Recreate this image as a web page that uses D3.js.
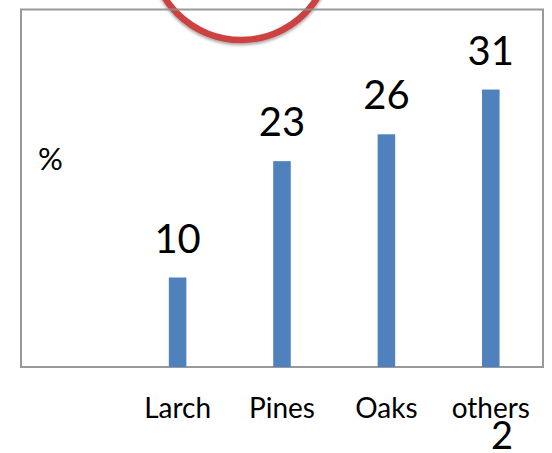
<!DOCTYPE html>
<html>
<head>
<meta charset="utf-8">
<script src="https://cdn.jsdelivr.net/npm/d3@7/dist/d3.min.js"></script>
<style>
  html, body { margin: 0; padding: 0; background: #ffffff; }
  svg { display: block; }
  text { font-family: Lato, "Open Sans", sans-serif; fill: #000; }
</style>
</head>
<body>
<script>
// Share of tree species, in percent (first slot intentionally left empty)
const categories = ["", "Larch", "Pines", "Oaks", "others"];
const values = [null, 10, 23, 26, 31];
const yDomainMax = 40;
const unitLabel = "%";
const pageNumber = "2";

const W = 552, H = 453;
const plot = { left: 21, right: 543, top: 9, bottom: 367 };

const svg = d3.select("body").append("svg")
  .attr("width", W).attr("height", H);

const defs = svg.append("defs");
const shadow = defs.append("filter").attr("id", "ringShadow")
  .attr("x", "-20%").attr("y", "-20%").attr("width", "140%").attr("height", "140%");
shadow.append("feDropShadow")
  .attr("dx", 0).attr("dy", 2).attr("stdDeviation", 1.6)
  .attr("flood-color", "#000").attr("flood-opacity", 0.35);

const x = d3.scaleBand()
  .domain(categories)
  .range([plot.left, plot.right])
  .paddingInner(0.832)
  .paddingOuter(0.416);

const y = d3.scaleLinear()
  .domain([0, yDomainMax])
  .range([plot.bottom, plot.top]);

// Red highlight ring peeking in from the top
svg.append("circle")
  .attr("cx", 241).attr("cy", -50).attr("r", 90)
  .attr("fill", "none")
  .attr("stroke", "#cc433f")
  .attr("stroke-width", 6.5)
  .attr("filter", "url(#ringShadow)");

// Chart frame
svg.append("rect")
  .attr("x", plot.left).attr("y", plot.top + 0.5)
  .attr("width", plot.right - plot.left)
  .attr("height", plot.bottom - plot.top - 0.5)
  .attr("fill", "none")
  .attr("stroke", "#8e8e8e")
  .attr("stroke-opacity", 0.9)
  .attr("stroke-width", 2);

const data = categories.map((c, i) => ({ c, v: values[i] })).filter(d => d.v != null);

// Bars
svg.append("g").selectAll("rect")
  .data(data)
  .join("rect")
  .attr("x", d => x(d.c))
  .attr("y", d => y(d.v))
  .attr("width", x.bandwidth())
  .attr("height", d => y(0) - y(d.v))
  .attr("fill", "#4f81bd");

// Value labels above the bars
svg.append("g").selectAll("text")
  .data(data)
  .join("text")
  .attr("x", d => x(d.c) + x.bandwidth() / 2)
  .attr("y", d => y(d.v) - 25)
  .attr("text-anchor", "middle")
  .style("font-size", "40px")
  .text(d => d.v);

// Category axis
const xAxis = svg.append("g")
  .attr("transform", `translate(0,${plot.bottom})`)
  .call(d3.axisBottom(x).tickSize(0));
xAxis.select(".domain").remove();
xAxis.selectAll("text")
  .attr("y", 51)
  .attr("dy", null)
  .style("font-family", "Lato, 'Open Sans', sans-serif")
  .style("font-size", "28px")
  .attr("fill", "#000");

// Unit label
svg.append("text")
  .attr("x", 38).attr("y", 170)
  .style("font-size", "31px")
  .text(unitLabel);

// Page number
svg.append("text")
  .attr("x", 502).attr("y", 449)
  .attr("text-anchor", "middle")
  .style("font-size", "38px")
  .text(pageNumber);
</script>
</body>
</html>
